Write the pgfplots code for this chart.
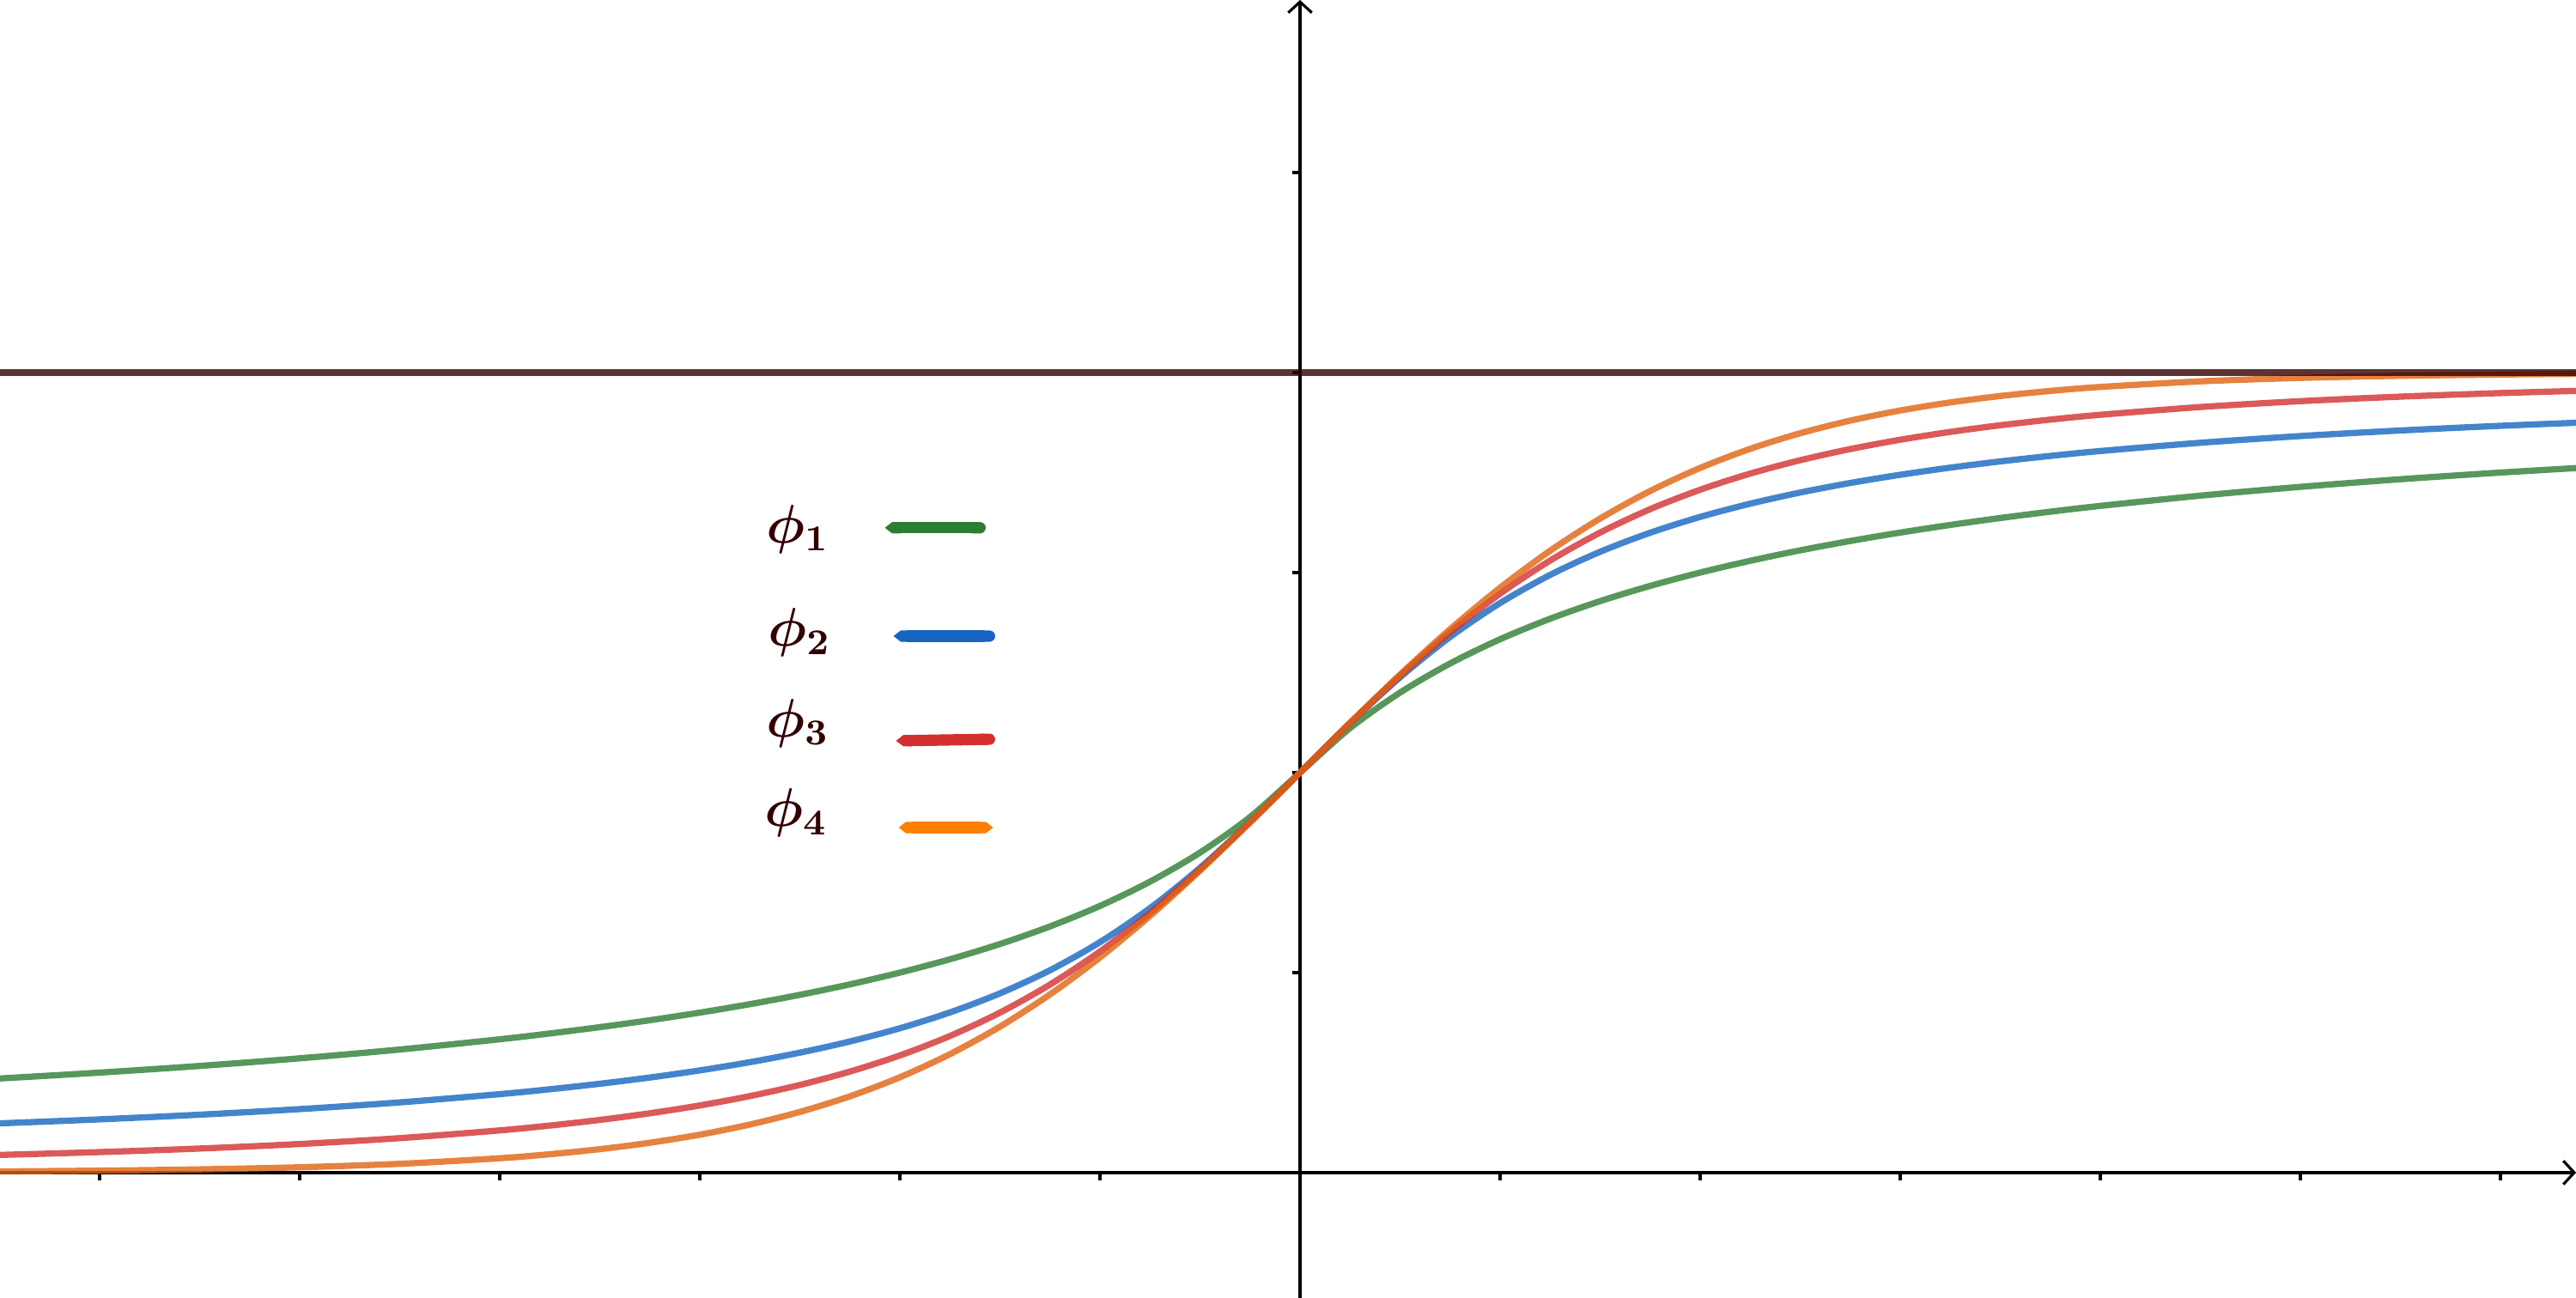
\documentclass[border=0pt]{standalone}
\usepackage{pgfplots}
\pgfplotsset{compat=1.18}
\usepackage{pgfplotstable}
\usetikzlibrary{arrows.meta}
\definecolor{cgreen}{HTML}{2E7D32}
\definecolor{cblue}{HTML}{1565C0}
\definecolor{cred}{HTML}{D32F2F}
\definecolor{corange}{HTML}{E0630F}
\definecolor{corangeleg}{HTML}{FF7F00}
\definecolor{cbrown}{HTML}{330000}
\pgfplotstableread{
x a b c d
-6.5 0.11765 0.06157 0.02211 0.0015
-6 0.125 0.06656 0.02566 0.00247
-5.5 0.13333 0.07241 0.0301 0.00407
-5 0.14286 0.07937 0.03576 0.00669
-4.5 0.15385 0.08777 0.04309 0.01099
-4 0.16667 0.09809 0.05279 0.01799
-3.75 0.17391 0.10419 0.05882 0.02298
-3.5 0.18182 0.11106 0.06588 0.02931
-3.25 0.19048 0.11885 0.07417 0.03733
-3 0.2 0.12776 0.08397 0.04743
-2.75 0.21053 0.13802 0.09563 0.06009
-2.5 0.22222 0.14994 0.10957 0.07586
-2.25 0.23529 0.16391 0.1263 0.09535
-2 0.25 0.18043 0.14645 0.1192
-1.75 0.26667 0.20022 0.17075 0.14805
-1.5 0.28571 0.22403 0.2 0.18243
-1.25 0.30769 0.25293 0.235 0.2227
-1 0.33333 0.28808 0.27639 0.26894
-0.75 0.36364 0.33055 0.32444 0.32082
-0.5 0.4 0.38089 0.37873 0.37754
-0.25 0.44444 0.43828 0.43798 0.43782
0 0.5 0.5 0.5 0.5
0.25 0.55556 0.56172 0.56202 0.56218
0.5 0.6 0.61911 0.62127 0.62246
0.75 0.63636 0.66945 0.67556 0.67918
1 0.66667 0.71192 0.72361 0.73106
1.25 0.69231 0.74707 0.765 0.7773
1.5 0.71429 0.77597 0.8 0.81757
1.75 0.73333 0.79978 0.82925 0.85195
2 0.75 0.81957 0.85355 0.8808
2.25 0.76471 0.83609 0.8737 0.90465
2.5 0.77778 0.85006 0.89043 0.92414
2.75 0.78947 0.86198 0.90437 0.93991
3 0.8 0.87224 0.91603 0.95257
3.25 0.80952 0.88115 0.92583 0.96267
3.5 0.81818 0.88894 0.93412 0.97069
3.75 0.82609 0.89581 0.94118 0.97702
4 0.83333 0.90191 0.94721 0.98201
4.5 0.84615 0.91223 0.95691 0.98901
5 0.85714 0.92063 0.96424 0.99331
5.5 0.86667 0.92759 0.9699 0.99593
6 0.875 0.93344 0.97434 0.99753
6.5 0.88235 0.93843 0.97789 0.9985
}\curves
\begin{document}
\begin{tikzpicture}
\begin{axis}[
  width=20cm, height=10.08cm, scale only axis,
  xmin=-6.498, xmax=6.378, ymin=-0.1567, ymax=1.4657,
  axis lines=middle,
  axis line style={line width=0.6pt, -{Straight Barb[length=2.4pt,width=5.2pt,line width=0.6pt]}},
  xtick={-6,-5,-4,-3,-2,-1,1,2,3,4,5,6},
  ytick={0.25,0.5,0.75,1,1.25},
  xticklabels={}, yticklabels={},
  tick align=outside,
  major tick length=1.7pt,
  tick style={line width=0.6pt, black},
  clip=true,
]
\addplot[cgreen, opacity=0.8, line width=1.38pt, smooth] table[x=x,y=a] {\curves};
\addplot[cblue, opacity=0.8, line width=1.38pt, smooth] table[x=x,y=b] {\curves};
\addplot[cred, opacity=0.8, line width=1.38pt, smooth] table[x=x,y=c] {\curves};
\addplot[corange, opacity=0.8, line width=1.38pt, smooth] table[x=x,y=d] {\curves};
\addplot[cbrown, opacity=0.8, line width=1.38pt] coordinates {(-6.6,1) (6.5,1)};
% legend
\addplot[cgreen, line width=2.5pt, arrows={Triangle Cap[length=1.6pt]-Round Cap[]}] coordinates {(-2.075,0.806) (-1.571,0.806)};
\addplot[cblue, line width=2.5pt, arrows={Triangle Cap[length=1.6pt]-Round Cap[]}] coordinates {(-2.032,0.6706) (-1.524,0.6706)};
\addplot[cred, line width=2.5pt, arrows={Triangle Cap[length=1.6pt]-Round Cap[]}] coordinates {(-2.019,0.5397) (-1.524,0.5418)};
\addplot[corangeleg, line width=2.5pt, arrows={Triangle Cap[length=1.6pt]-Triangle Cap[length=1.6pt]}] coordinates {(-2.006,0.4313) (-1.534,0.4313)};
\node[text=cbrown, inner sep=0pt, font=\fontsize{11.5}{14}\selectfont\boldmath] at (axis cs:-2.511,0.804) {$\phi_1$};
\node[text=cbrown, inner sep=0pt, font=\fontsize{11.5}{14}\selectfont\boldmath] at (axis cs:-2.502,0.675) {$\phi_2$};
\node[text=cbrown, inner sep=0pt, font=\fontsize{11.5}{14}\selectfont\boldmath] at (axis cs:-2.511,0.562) {$\phi_3$};
\node[text=cbrown, inner sep=0pt, font=\fontsize{11.5}{14}\selectfont\boldmath] at (axis cs:-2.519,0.4496) {$\phi_4$};
\end{axis}
\pgfresetboundingbox
\path[use as bounding box] (0,0) rectangle (20cm,10.08cm);
\end{tikzpicture}
\end{document}
